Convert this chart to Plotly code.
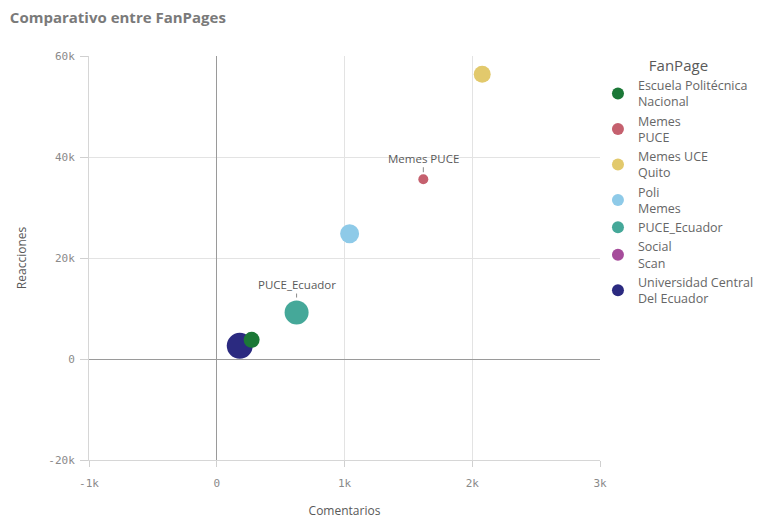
import plotly.graph_objects as go

# ---- data ----
fanpages = ["Escuela Politécnica<br>Nacional", "Memes<br>PUCE", "Memes UCE<br>Quito",
            "Poli<br>Memes", "PUCE_Ecuador", "Social<br>Scan",
            "Universidad Central<br>Del Ecuador"]
comentarios = [273, 1617, 2078, 1040, 625, None, 180]
reacciones = [3800, 35600, 56400, 24800, 9200, None, 2600]
bubble_measure = [16, 10, 17, 19, 24, 10, 26]
colors = ["#1b7837", "#c5606e", "#e2c96c", "#8ecae8", "#45a899", "#a64c9b", "#2b2a80"]
labelled = {"Memes<br>PUCE": ("Memes PUCE", -21, 7), "PUCE_Ecuador": ("PUCE_Ecuador", -28, 15)}

fig = go.Figure()
order = [6, 0, 4, 3, 1, 2, 5]
for i in order:
    fig.add_trace(go.Scatter(
        x=[comentarios[i]], y=[reacciones[i]], mode="markers",
        name=fanpages[i], legendrank=i,
        marker=dict(color=colors[i], size=bubble_measure[i], line=dict(width=0), opacity=1),
        hoverinfo="name+x+y",
    ))

for i, name in enumerate(fanpages):
    if name in labelled:
        txt, ay, so = labelled[name]
        fig.add_annotation(x=comentarios[i], y=reacciones[i], text=txt, showarrow=True,
                           ax=0, ay=ay, arrowhead=0, arrowwidth=1, arrowcolor="#8a8a8a",
                           standoff=so, font=dict(family="Open Sans", size=11.5, color="#595959"))

fig.update_layout(
    width=758, height=519,
    margin=dict(l=89, r=158, t=56, b=59, autoexpand=False),
    paper_bgcolor="white", plot_bgcolor="white",
    title=dict(text="<b>Comparativo entre FanPages</b>", x=0.013, xanchor="left", y=0.965,
               yanchor="middle", font=dict(family="Open Sans", size=15, color="#7a7a7a")),
    legend=dict(x=0.996, xanchor="left", y=1.012, yanchor="top",
                title=dict(text="FanPage", side="top center",
                           font=dict(family="Open Sans", size=15, color="#595959")),
                font=dict(family="Open Sans", size=12.5, color="#666666"),
                tracegroupgap=0, itemsizing="constant", bgcolor="rgba(0,0,0,0)"),
    showlegend=True,
)
fig.update_xaxes(range=[-1000, 3000], tickvals=[-1000, 0, 1000, 2000, 3000],
                 ticktext=["-1k", "0", "1k", "2k", "3k"],
                 showgrid=True, gridcolor="#e3e3e3", gridwidth=1,
                 zeroline=True, zerolinecolor="#9a9a9a", zerolinewidth=1,
                 ticks="outside", ticklen=6, tickcolor="#d0d0d0",
                 ticklabelstandoff=7,
                 showline=True, linecolor="#d6d6d6", linewidth=1,
                 tickfont=dict(family="DejaVu Sans Mono", size=11, color="#8a8a8a"),
                 title=dict(text="Comentarios", standoff=18,
                            font=dict(family="Open Sans", size=12, color="#595959")))
fig.update_yaxes(range=[-20000, 60000], tickvals=[-20000, 0, 20000, 40000, 60000],
                 ticktext=["-20k", "0", "20k", "40k", "60k"],
                 showgrid=True, gridcolor="#e3e3e3", gridwidth=1,
                 zeroline=True, zerolinecolor="#9a9a9a", zerolinewidth=1,
                 ticks="outside", ticklen=8, tickcolor="#d0d0d0",
                 ticklabelstandoff=3,
                 showline=True, linecolor="#d6d6d6", linewidth=1,
                 tickfont=dict(family="DejaVu Sans Mono", size=11, color="#8a8a8a"),
                 title=dict(text="Reacciones", standoff=19,
                            font=dict(family="Open Sans", size=12, color="#595959")))

fig.write_html("out.html")
